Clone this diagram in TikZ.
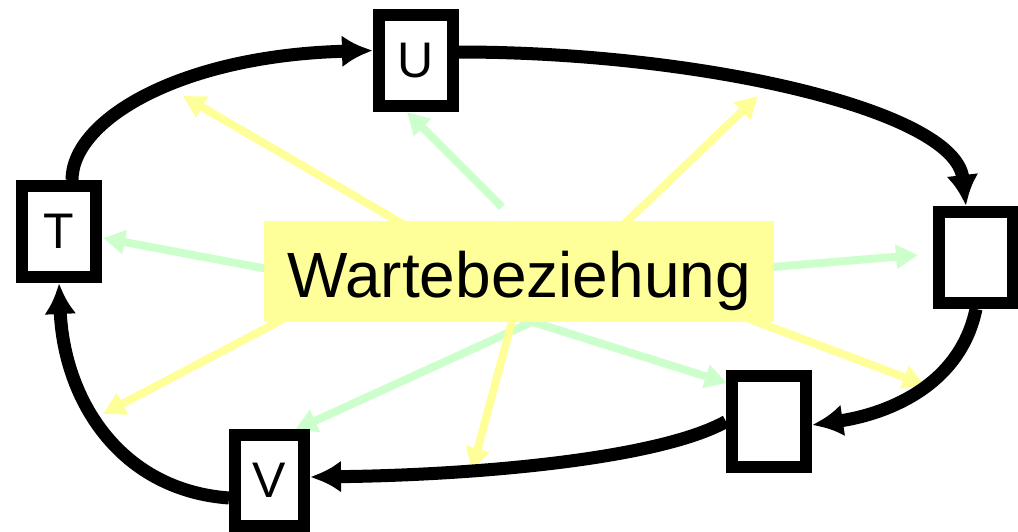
\documentclass[tikz,border=0pt]{standalone}
\usepackage{fontspec}
\setmainfont{Liberation Sans}
\usetikzlibrary{arrows.meta}
\definecolor{ylw}{HTML}{FFFF99}
\definecolor{grn}{HTML}{CCFFCC}
\begin{document}
\begin{tikzpicture}[x=1pt,y=-1pt,
  box/.style={draw=black,fill=white,line width=12pt,inner sep=0pt,minimum width=74pt,minimum height=91pt,font=\fontsize{50}{56}\selectfont},
  link/.style={line width=13pt,-{Latex[length=31pt,width=32pt]}},
  yarr/.style={draw=ylw,line width=8pt,-{Triangle[length=22pt,width=23pt]}},
  garr/.style={draw=grn,line width=8pt,-{Triangle[length=22pt,width=23pt]}},
  lbl/.style={fill=ylw,inner sep=0pt,minimum width=510pt,minimum height=101pt,text height=51pt,text depth=0pt,font=\fontsize{64}{70}\selectfont}]
\path[use as bounding box] (0,0) rectangle (1018,531);
% radiating arrows
\coordinate (ys1) at (413,230); \coordinate (yt1) at (183,96);
\coordinate (gs1) at (502,207); \coordinate (gt1) at (407,112);
\coordinate (gs2) at (278,271); \coordinate (gt2) at (103,238);
\coordinate (ys2) at (619,229); \coordinate (yt2) at (758,96);
\coordinate (gs3) at (760,268); \coordinate (gt3) at (918,255);
\coordinate (ys3) at (291,315); \coordinate (yt3) at (103,414);
\coordinate (gs4) at (545,316); \coordinate (gt4) at (295,430);
\coordinate (ys4) at (515,310); \coordinate (yt4) at (472,470);
\coordinate (gs5) at (520,318); \coordinate (gt5) at (727,383);
\coordinate (ys5) at (744,317); \coordinate (yt5) at (925,385);
\draw[yarr] (ys1) -- (yt1);
\draw[garr] (gs1) -- (gt1);
\draw[garr] (gs2) -- (gt2);
\draw[yarr] (ys2) -- (yt2);
\draw[garr] (gs3) -- (gt3);
\draw[yarr] (ys3) -- (yt3);
\draw[garr] (gs4) -- (gt4);
\draw[yarr] (ys4) -- (yt4);
\draw[garr] (gs5) -- (gt5);
\draw[yarr] (ys5) -- (yt5);
% label
\node[lbl] (lab) at (519,271.5) {Wartebeziehung};
% boxes
\node[box] (U) at (416,60.5) {U};
\node[box] (T) at (59,231.5) {T};
\node[box] (R) at (976,257.5) {};
\node[box] (B) at (769,421.5) {};
\node[box,minimum width=69pt] (V) at (269.5,480.5) {V};
% cycle connectors
\draw[link] ([xshift=13pt]T.north) .. controls +(0,-60) and +(-193,5) .. ([yshift=10pt]U.west);
\draw[link] ([yshift=8.5pt]U.east) .. controls +(241,0) and +(-11,-96) .. ([xshift=-10pt]R.north);
\draw[link] (R.south) .. controls +(-17,81) and +(68,-10) .. ([yshift=-3.5pt]B.east);
\draw[link] (B.west) .. controls +(-66,37) and +(170,-2) .. ([yshift=3.5pt]V.east);
\draw[link] ([yshift=-17.5pt]V.west) .. controls +(-109,-8) and +(5,117) .. (T.south);
\end{tikzpicture}
\end{document}
